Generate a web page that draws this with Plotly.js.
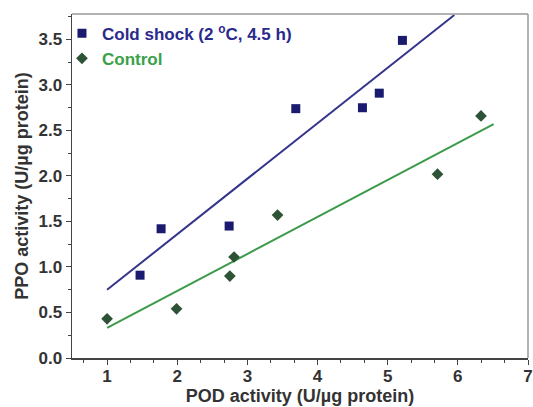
<!DOCTYPE html>
<html>
<head>
<meta charset="utf-8">
<script src="https://cdn.plot.ly/plotly-3.0.1.min.js"></script>
<style>html,body{margin:0;padding:0;background:#fff;}#chart{width:533px;height:407px;}</style>
</head>
<body>
<div id="chart"></div>
<script>
// Data
const coldX = [1.47, 1.77, 2.74, 3.69, 4.64, 4.88, 5.21];
const coldY = [0.91, 1.42, 1.45, 2.74, 2.75, 2.91, 3.49];
const ctrlX = [1.00, 1.99, 2.75, 2.81, 3.43, 5.71, 6.33];
const ctrlY = [0.43, 0.54, 0.90, 1.11, 1.57, 2.02, 2.66];
const coldFitX = [1.00, 5.95];
const coldFitY = [0.75, 3.77];
const ctrlFitX = [1.00, 6.51];
const ctrlFitY = [0.33, 2.57];
const coldName = 'Cold shock (2 <sup>o</sup>C, 4.5 h)';
const ctrlName = 'Control';
const xTitle = 'POD activity (U/µg protein)';
const yTitle = 'PPO activity (U/µg protein)';

const FONT = 'Liberation Sans, Arial, sans-serif';

const traces = [
  {x: coldFitX, y: coldFitY, mode: 'lines', line: {color: '#34348c', width: 2}, showlegend: false, hoverinfo: 'skip'},
  {x: ctrlFitX, y: ctrlFitY, mode: 'lines', line: {color: '#3c9a4a', width: 2}, showlegend: false, hoverinfo: 'skip'},
  {x: coldX, y: coldY, mode: 'markers', name: '<span style="color:#2a2a8c">' + coldName + '</span>',
   marker: {symbol: 'square', size: 9, color: '#1a1a6e'}},
  {x: ctrlX, y: ctrlY, mode: 'markers', name: '<span style="color:#3aa04a">' + ctrlName + '</span>',
   marker: {symbol: 'diamond', size: 9, color: '#2e5236'}}
];

const axisCommon = {
  showline: true, linecolor: '#444', linewidth: 1.5, mirror: false,
  showgrid: false, zeroline: false,
  ticks: 'outside', ticklen: 5, tickwidth: 1, tickcolor: '#444',
  tickfont: {family: FONT, size: 17, color: '#333', weight: 'bold'}
};

const layout = {
  width: 533, height: 407,
  margin: {l: 72, r: 5, t: 14, b: 49},
  paper_bgcolor: '#fff', plot_bgcolor: '#fff',
  font: {family: FONT, color: '#333'},
  showlegend: true,
  legend: {x: -0.022, y: 0.995, xanchor: 'left', yanchor: 'top', bgcolor: 'rgba(0,0,0,0)',
           font: {family: FONT, size: 17, weight: 'bold'}, itemwidth: 30, tracegroupgap: 0},
  xaxis: Object.assign({}, axisCommon, {
    range: [0.5, 7], dtick: 1, tick0: 0, ticklabelstandoff: -3,
    minor: {dtick: 1/3, tick0: 0, ticks: 'outside', ticklen: 3, tickcolor: '#444'},
    title: {text: xTitle, font: {family: FONT, size: 18, color: '#333', weight: 'bold'}, standoff: 0}
  }),
  yaxis: Object.assign({}, axisCommon, {
    range: [0, 3.78], dtick: 0.5, tick0: 0, tickformat: '.1f',
    minor: {dtick: 0.25, tick0: 0, ticks: 'outside', ticklen: 3, tickcolor: '#444'},
    title: {text: yTitle, font: {family: FONT, size: 18, color: '#333', weight: 'bold'}, standoff: 5}
  }),
  shapes: [
    {type: 'line', xref: 'paper', yref: 'paper', x0: 0, x1: 1, y0: 1, y1: 1, line: {color: '#999', width: 1.5}},
    {type: 'line', xref: 'paper', yref: 'paper', x0: 1, x1: 1, y0: 0, y1: 1, line: {color: '#999', width: 1.5}}
  ]
};

Plotly.newPlot('chart', traces, layout, {displayModeBar: false, staticPlot: true});
</script>
</body>
</html>
